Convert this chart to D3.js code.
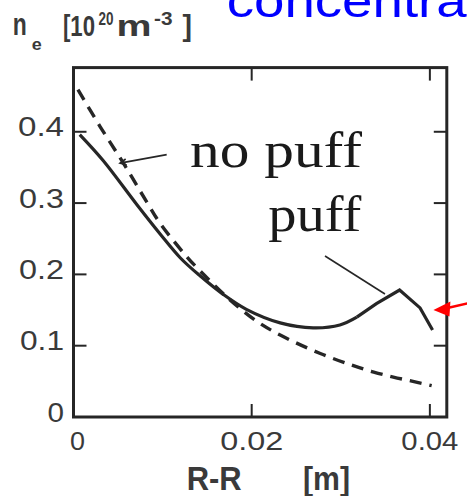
<!DOCTYPE html>
<html>
<head>
<meta charset="utf-8">
<script src="https://cdn.jsdelivr.net/npm/d3@7/dist/d3.min.js"></script>
<style>
  html, body { margin: 0; padding: 0; background: #fff; }
  svg { display: block; }
</style>
</head>
<body>
<div id="chart"></div>
<script>
// Edge density profiles, n_e [10^20 m^-3] against R-R0 [m]
const puffX   = [0.0007, 0.0033, 0.0071, 0.0097, 0.0120, 0.0142, 0.0168, 0.0194, 0.0232, 0.0269, 0.0299, 0.0318, 0.0340, 0.0366, 0.0389, 0.0403];
const puffY   = [0.396, 0.360, 0.298, 0.257, 0.223, 0.198, 0.172, 0.151, 0.132, 0.125, 0.129, 0.140, 0.159, 0.178, 0.153, 0.122];
const noPuffX = [0.0005, 0.0030, 0.0056, 0.0082, 0.0097, 0.0127, 0.0142, 0.0175, 0.0206, 0.0232, 0.0277, 0.0312, 0.0337, 0.0359, 0.0381, 0.0402];
const noPuffY = [0.459, 0.407, 0.356, 0.302, 0.272, 0.225, 0.205, 0.165, 0.134, 0.115, 0.089, 0.073, 0.063, 0.056, 0.050, 0.044];

const xTicks = [0, 0.02, 0.04];
const xTickLabels = ["0", "0.02", "0.04"];
const yTicks = [0, 0.1, 0.2, 0.3, 0.4];
const yTickLabels = ["0", "0.1", "0.2", "0.3", "0.4"];

const W = 467, H = 496;
const svg = d3.select("#chart").append("svg").attr("width", W).attr("height", H);

const x = d3.scaleLinear().domain([0, 0.0419]).range([73.5, 446.8]);
const y = d3.scaleLinear().domain([0, 0.49]).range([417, 67.6]);

const ink = "#262626";
const textInk = "#3a3a3a";
const sans = "'Liberation Sans', Arial, Helvetica, sans-serif";
const serif = "'Liberation Serif', 'Times New Roman', serif";

// text placed by its left edge and fitted to a given width
function fitText(px, py, str, size, width, opts = {}) {
  return svg.append("text")
    .attr("x", px).attr("y", py)
    .attr("font-family", opts.family || sans)
    .attr("font-size", size)
    .attr("font-weight", opts.weight || "normal")
    .attr("fill", opts.fill || textInk)
    .attr("textLength", width)
    .attr("lengthAdjust", "spacingAndGlyphs")
    .text(str);
}

// slide heading (runs off the top/right edge)
fitText(226.7, 16.7, "concentra", 46, 240, { fill: "#0000ff" });

// y-axis title: n_e [10^20 m^-3], one text made of positioned pieces
{
  const pieces = [
    { s: "n",   x: 12.7,  y: 35, size: 31, w: 14 },
    { s: "e",   x: 31.7,  y: 50, size: 17, w: 10 },
    { s: "[10", x: 63,    y: 36, size: 29, w: 32 },
    { s: "20",  x: 98.5,  y: 25, size: 18, w: 15 },
    { s: "m",   x: 116.5, y: 36, size: 29, w: 35 },
    { s: "-3",  x: 154,   y: 25, size: 18, w: 18.5 },
    { s: "]",   x: 182.5, y: 36, size: 29, w: 9.5 }
  ];
  const t = svg.append("text")
    .attr("font-family", sans).attr("font-weight", "bold").attr("fill", textInk);
  pieces.forEach(p => {
    t.append("tspan")
      .attr("x", p.x).attr("y", p.y).attr("font-size", p.size)
      .attr("textLength", p.w).attr("lengthAdjust", "spacingAndGlyphs")
      .text(p.s);
  });
}

// x-axis title
{
  const t = svg.append("text")
    .attr("font-family", sans).attr("font-weight", "bold").attr("fill", textInk)
    .attr("font-size", 33);
  t.append("tspan").attr("x", 186.7).attr("y", 489.5)
    .attr("textLength", 55).attr("lengthAdjust", "spacingAndGlyphs").text("R-R");
  t.append("tspan").attr("x", 303).attr("y", 489.5)
    .attr("textLength", 47).attr("lengthAdjust", "spacingAndGlyphs").text("[m]");
}

// tick marks, pointing inward on all four sides
const tickLen = 13;
const ticks = svg.append("g").attr("stroke", ink).attr("stroke-width", 2);
xTicks.filter(v => v > 0).forEach(v => {
  ticks.append("line").attr("x1", x(v)).attr("x2", x(v)).attr("y1", y(0)).attr("y2", y(0) - tickLen);
  ticks.append("line").attr("x1", x(v)).attr("x2", x(v)).attr("y1", y.range()[1]).attr("y2", y.range()[1] + tickLen);
});
yTicks.filter(v => v > 0).forEach(v => {
  ticks.append("line").attr("x1", x(0)).attr("x2", x(0) + tickLen).attr("y1", y(v)).attr("y2", y(v));
  ticks.append("line").attr("x1", x.range()[1]).attr("x2", x.range()[1] - tickLen).attr("y1", y(v)).attr("y2", y(v));
});

// tick labels
const yLabelWidths = [16.5, 44, 45, 45, 46];
yTicks.forEach((v, i) => {
  fitText(64 - yLabelWidths[i], y(v) + 4.7, yTickLabels[i], 27, yLabelWidths[i]);
});
const xLabelWidths = [15, 63, 57];
xTicks.forEach((v, i) => {
  const cx = i === 0 ? x(v) + 4 : x(v);
  fitText(cx - xLabelWidths[i] / 2, 450, xTickLabels[i], 26, xLabelWidths[i]);
});

// plot frame
svg.append("rect")
  .attr("x", x(0)).attr("y", y.range()[1])
  .attr("width", x.range()[1] - x(0)).attr("height", y(0) - y.range()[1])
  .attr("fill", "none").attr("stroke", ink).attr("stroke-width", 3);

// no puff: dashed profile
const noPuff = noPuffX.map((v, i) => [v, noPuffY[i]]);
svg.append("path")
  .attr("d", d3.line().x(d => x(d[0])).y(d => y(d[1])).curve(d3.curveCatmullRom.alpha(0.5))(noPuff))
  .attr("fill", "none").attr("stroke", ink).attr("stroke-width", 3.4)
  .attr("stroke-dasharray", "12,8");

// puff: smooth decay, then a straight rise to the sharp peak near the wall
const puff = puffX.map((v, i) => [v, puffY[i]]);
const split = puffX.findIndex(v => v >= 0.0318);
svg.append("path")
  .attr("d", d3.line().x(d => x(d[0])).y(d => y(d[1])).curve(d3.curveCatmullRom.alpha(0.5))(puff.slice(0, split + 1)))
  .attr("fill", "none").attr("stroke", ink).attr("stroke-width", 3.2);
svg.append("path")
  .attr("d", d3.line().x(d => x(d[0])).y(d => y(d[1]))(puff.slice(split)))
  .attr("fill", "none").attr("stroke", ink).attr("stroke-width", 3.2)
  .attr("stroke-linejoin", "miter");

// curve labels with leader lines
fitText(x(0.01308), y(0.3511), "no puff", 50, 172, { family: serif, fill: "#1a1a1a" });
fitText(x(0.02186), y(0.2609), "puff", 50, 93, { family: serif, fill: "#1a1a1a" });

const tip = [x(0.00522), y(0.356)], tail = [x(0.01046), y(0.368)];
svg.append("line").attr("x1", tail[0]).attr("y1", tail[1]).attr("x2", tip[0]).attr("y2", tip[1])
  .attr("stroke", ink).attr("stroke-width", 1.6);
{
  const ang = Math.atan2(tail[1] - tip[1], tail[0] - tip[0]);
  const L = 7, s = 0.45;
  const p1 = [tip[0] + L * Math.cos(ang + s), tip[1] + L * Math.sin(ang + s)];
  const p2 = [tip[0] + L * Math.cos(ang - s), tip[1] + L * Math.sin(ang - s)];
  svg.append("path").attr("d", `M${p1}L${tip}L${p2}`).attr("fill", "none")
    .attr("stroke", ink).attr("stroke-width", 1.6);
}
svg.append("line")
  .attr("x1", x(0.02823)).attr("y1", y(0.2258)).attr("x2", x(0.03496)).attr("y2", y(0.1725))
  .attr("stroke", ink).attr("stroke-width", 1.6);

// red pointer at the wall-side end of the puff profile
{
  const rtip = [x(0.0404), y(0.150)];
  svg.append("line").attr("x1", rtip[0] + 14).attr("y1", rtip[1] - 2).attr("x2", W + 2).attr("y2", rtip[1] - 7)
    .attr("stroke", "#ff0000").attr("stroke-width", 2.5);
  svg.append("path")
    .attr("d", `M${rtip[0]},${rtip[1]}L${rtip[0] + 17},${rtip[1] - 8.5}L${rtip[0] + 16},${rtip[1] + 6.5}Z`)
    .attr("fill", "#ff0000");
}
</script>
</body>
</html>
